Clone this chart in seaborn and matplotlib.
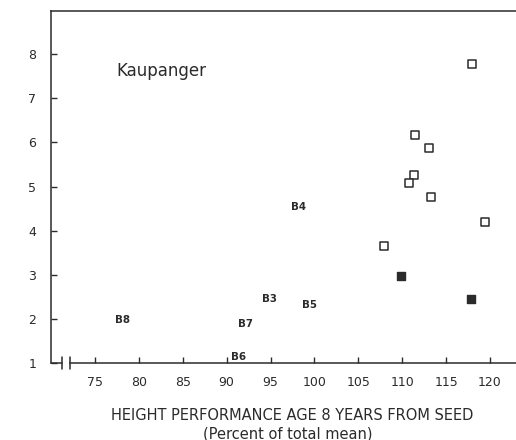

# Kaupanger provenance score vs height performance (scanned figure recreation)

import matplotlib
matplotlib.use("Agg")
import matplotlib.pyplot as plt
import matplotlib.transforms as mtransforms
import pandas as pd
import seaborn as sns

# ── Data ──────────────────────────────────────────────────
open_x = [117.9, 111.5, 113.1, 111.3, 110.8, 113.3, 119.4, 107.9]
open_y = [7.77, 6.16, 5.87, 5.26, 5.08, 4.76, 4.19, 3.65]

filled_x = [109.9, 117.8]
filled_y = [2.97, 2.46]

label_names = ["B8", "B7", "B6", "B4", "B3", "B5"]
label_x = [78.2, 92.2, 91.3, 98.2, 94.9, 99.4]
label_y = [1.98, 1.88, 1.14, 4.54, 2.45, 2.31]

x_ticks = [75, 80, 85, 90, 95, 100, 105, 110, 115, 120]
y_ticks = [1, 2, 3, 4, 5, 6, 7, 8]

INK = "#2b2b2b"

sns.set_style("ticks")
plt.rcParams["font.family"] = ["DejaVu Sans"]


def main():
    fig = plt.figure(figsize=(5.16, 4.40), dpi=100)
    ax = fig.add_axes([51 / 516, 77 / 440, 1 - 51 / 516, (363 - 11) / 440])

    df_open = pd.DataFrame({"x": open_x, "y": open_y})
    df_filled = pd.DataFrame({"x": filled_x, "y": filled_y})

    sns.scatterplot(data=df_open, x="x", y="y", marker="s", s=38,
                    facecolor="white", edgecolor=INK, linewidth=1.1, ax=ax)
    sns.scatterplot(data=df_filled, x="x", y="y", marker="s", s=38,
                    color=INK, edgecolor=INK, linewidth=1.0, ax=ax)

    for name, lx, ly in zip(label_names, label_x, label_y):
        ax.text(lx, ly, name, ha="center", va="center", fontsize=7.4,
                fontweight="bold", color=INK)

    ax.text(82.6, 7.62, "Kaupanger", ha="center", va="center",
            fontsize=12, color=INK)

    ax.set_xlim(70, 122.96)
    ax.set_ylim(1, 8.98)
    ax.set_xticks(x_ticks)
    ax.set_yticks(y_ticks)
    ax.tick_params(direction="in", length=4.3, width=1.0, colors=INK,
                   labelsize=9)
    ax.tick_params(axis="x", pad=9.5)
    ax.tick_params(axis="y", pad=10.5)
    ax.set_xlabel("")
    ax.set_ylabel("")

    for side in ["left", "top", "bottom"]:
        ax.spines[side].set_color(INK)
        ax.spines[side].set_linewidth(1.1)
    ax.spines["right"].set_visible(False)
    ax.spines["bottom"].set_bounds(72.2, 122.96)

    # axis break near the origin
    trans = mtransforms.blended_transform_factory(ax.transData, ax.transAxes)
    ax.plot([70, 71.25], [0, 0], color=INK, lw=1.1, transform=trans,
            clip_on=False)
    for bx in [71.25, 72.2]:
        ax.plot([bx, bx], [-0.018, 0.018], color=INK, lw=1.1,
                transform=trans, clip_on=False)

    fig.text(292 / 516, 1 - 415 / 440,
             "HEIGHT PERFORMANCE AGE 8 YEARS FROM SEED",
             ha="center", va="center", fontsize=10.5, color=INK)
    fig.text(288 / 516, 1 - 434 / 440, "(Percent of total mean)",
             ha="center", va="center", fontsize=10.5, color=INK)
    fig.text(28 / 516, 1 - 2 / 440, "SCORE", ha="left", va="bottom",
             fontsize=10, color=INK)

    fig.savefig("out.png", dpi=100)


if __name__ == "__main__":
    main()
